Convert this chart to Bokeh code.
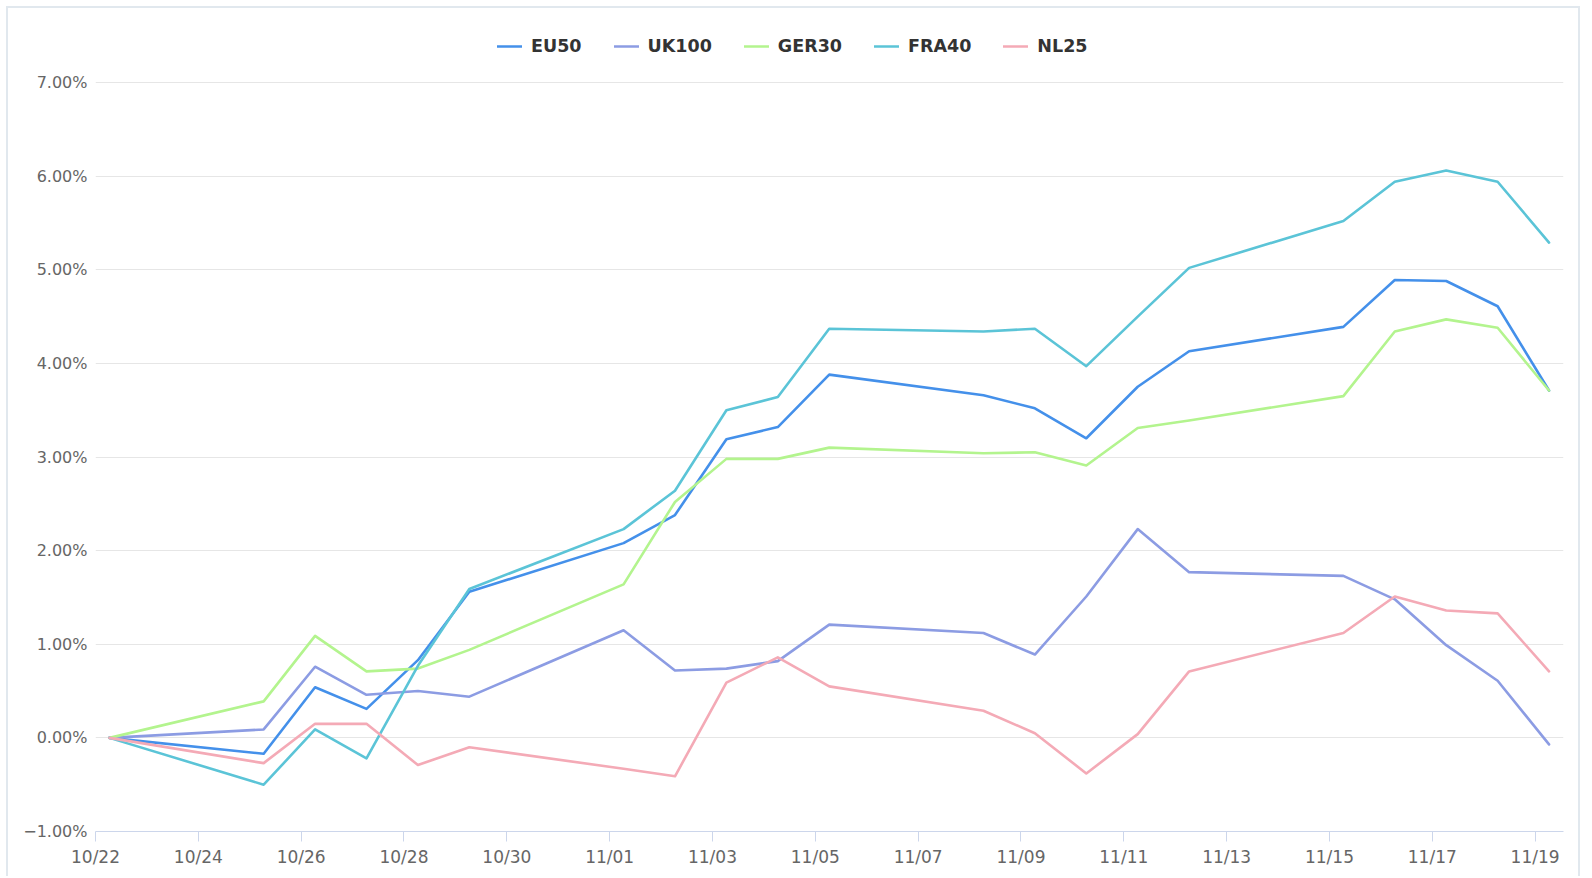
from datetime import datetime, timedelta

from bokeh.plotting import figure
from bokeh.models import (ColumnDataSource, Legend, LegendItem, DatetimeTickFormatter,
                          CustomJSTickFormatter, FixedTicker, Range1d)
from bokeh.embed import file_html
from bokeh.resources import INLINE

# ---------------- data ----------------
dates = ["2021-10-22", "2021-10-25", "2021-10-26", "2021-10-27", "2021-10-28", "2021-10-29",
         "2021-11-01", "2021-11-02", "2021-11-03", "2021-11-04", "2021-11-05",
         "2021-11-08", "2021-11-09", "2021-11-10", "2021-11-11", "2021-11-12",
         "2021-11-15", "2021-11-16", "2021-11-17", "2021-11-18", "2021-11-19"]

eu50 = [0.00, -0.17, 0.54, 0.31, 0.83, 1.56, 2.08, 2.38, 3.19, 3.32, 3.88,
        3.66, 3.52, 3.20, 3.75, 4.13, 4.39, 4.89, 4.88, 4.61, 3.71]
uk100 = [0.00, 0.09, 0.76, 0.46, 0.50, 0.44, 1.15, 0.72, 0.74, 0.82, 1.21,
         1.12, 0.89, 1.51, 2.23, 1.77, 1.73, 1.48, 0.99, 0.61, -0.07]
ger30 = [0.00, 0.39, 1.09, 0.71, 0.74, 0.94, 1.64, 2.52, 2.98, 2.98, 3.10,
         3.04, 3.05, 2.91, 3.31, 3.39, 3.65, 4.34, 4.47, 4.38, 3.71]
fra40 = [0.00, -0.50, 0.09, -0.22, 0.77, 1.59, 2.23, 2.64, 3.50, 3.64, 4.37,
         4.34, 4.37, 3.97, 4.50, 5.02, 5.52, 5.94, 6.06, 5.94, 5.29]
nl25 = [0.00, -0.27, 0.15, 0.15, -0.29, -0.10, -0.33, -0.41, 0.59, 0.86, 0.55,
        0.29, 0.05, -0.38, 0.04, 0.71, 1.12, 1.51, 1.36, 1.33, 0.71]

series_names = ["EU50", "UK100", "GER30", "FRA40", "NL25"]
series_values = [eu50, uk100, ger30, fra40, nl25]
series_colors = ["#4490ea", "#8c9ce3", "#b3f48e", "#5bc4d7", "#f4aab6"]

y_ticks = [-1, 0, 1, 2, 3, 4, 5, 6, 7]

# ---------------- figure ----------------
xs = [datetime.strptime(d, "%Y-%m-%d") + timedelta(hours=6, minutes=30) for d in dates]

W, H = 1574, 870
X0, Y0 = 8, 8                      # canvas origin on the page
FL, FR, FT, FB = 95, 1563, 82, 831  # plot area (7.00% line at FT, -1.00% at FB)
ppu = (FB - FT) / (y_ticks[-1] - y_ticks[0])
y_top = y_ticks[-1] + (FT - Y0) / ppu  # frame reaches the canvas top; legend lives there

p = figure(width=W, height=H, x_axis_type="datetime", output_backend="svg",
           toolbar_location=None,
           x_range=Range1d(datetime(2021, 10, 22), datetime(2021, 11, 19, 13, 15)),
           y_range=Range1d(y_ticks[0], y_top),
           min_border_left=FL - X0, min_border_right=X0 + W - FR,
           min_border_top=0, min_border_bottom=Y0 + H - FB)
p.styles = {"margin-left": "6px", "margin-top": "6px",
            "border-left": "2px solid #e1e8ee", "border-right": "2px solid #e1e8ee",
            "border-top": "2px solid #e1e8ee"}
p.outline_line_color = None
p.background_fill_color = "white"
p.border_fill_color = "white"

renderers = []
for name, vals, col in zip(series_names, series_values, series_colors):
    src = ColumnDataSource(dict(x=xs, y=vals))
    r = p.line("x", "y", source=src, line_color=col, line_width=2.6,
               line_join="round", line_cap="round")
    renderers.append((name, r))

# grid
p.xgrid.grid_line_color = None
p.ygrid.grid_line_color = "#e6e6e6"
p.ygrid.grid_line_width = 1

# y axis
p.yaxis.ticker = FixedTicker(ticks=y_ticks)
p.yaxis.formatter = CustomJSTickFormatter(
    code="return tick.toFixed(2).replace('-', '\u2212') + '%';")
p.yaxis.axis_line_color = None
p.yaxis.major_tick_line_color = None
p.yaxis.major_tick_out = 0
p.yaxis.major_tick_in = 0
p.yaxis.minor_tick_line_color = None
p.yaxis.major_label_standoff = 8
p.yaxis.major_label_text_font = "DejaVu Sans"
p.yaxis.major_label_text_font_size = "16px"
p.yaxis.major_label_text_color = "#666666"

# x axis
start = datetime(2021, 10, 22)
x_ticks = [(start + timedelta(days=2 * i)).timestamp() * 1000 for i in range(15)]
p.xaxis.ticker = FixedTicker(ticks=x_ticks)
p.xaxis.formatter = DatetimeTickFormatter(days="%m/%d", months="%m/%d", hours="%m/%d")
p.xaxis.axis_line_color = "#ccd6eb"
p.xaxis.axis_line_width = 1
p.xaxis.major_tick_line_color = "#ccd6eb"
p.xaxis.major_tick_out = 10
p.xaxis.major_tick_in = 0
p.xaxis.minor_tick_line_color = None
p.xaxis.major_label_standoff = 5
p.xaxis.major_label_text_font = "DejaVu Sans"
p.xaxis.major_label_text_font_size = "17px"
p.xaxis.major_label_text_color = "#666666"

# legend, inside the top band of the frame (screen px from frame bottom-left)
LEG_H = 20
legend = Legend(items=[LegendItem(label=n, renderers=[r]) for n, r in renderers],
                orientation="horizontal",
                location=(497 - FL, (FB - 46) - LEG_H // 2),
                glyph_width=25, glyph_height=LEG_H, label_standoff=9, spacing=32,
                padding=0, margin=0, border_line_color=None,
                background_fill_alpha=0,
                label_text_font="DejaVu Sans", label_text_font_style="bold",
                label_text_font_size="17.5px", label_text_color="#333333")
p.add_layout(legend, "center")

open("out.html", "w").write(file_html(p, INLINE))
